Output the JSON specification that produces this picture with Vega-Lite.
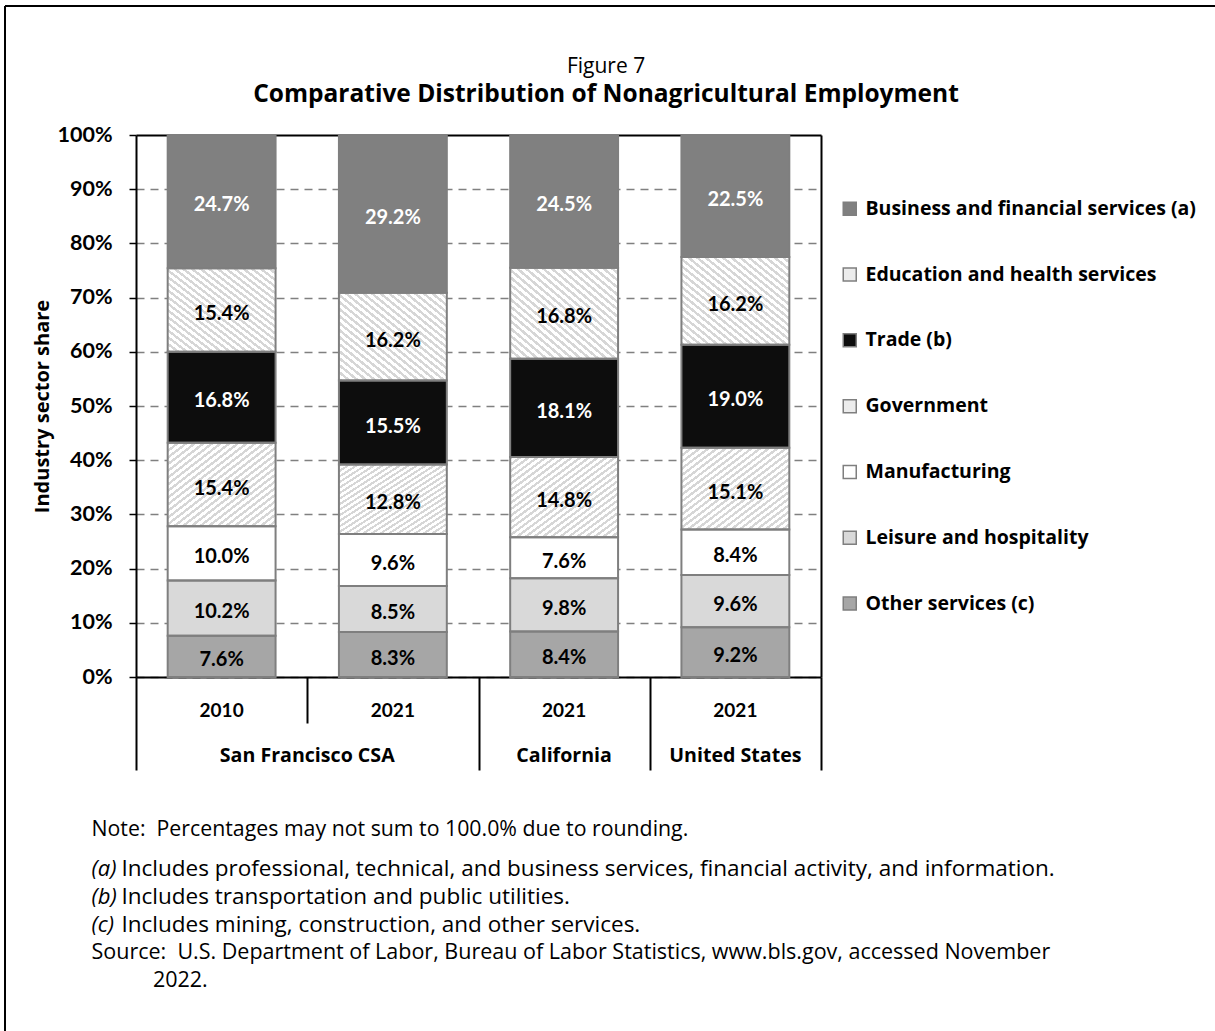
{
  "$schema": "https://vega.github.io/schema/vega-lite/v6.json",
  "width": 1210,
  "height": 1025,
  "autosize": {"type": "none"},
  "padding": {"left": 5, "top": 6, "right": 0, "bottom": 0},
  "background": "white",
  "view": {"stroke": "black", "strokeWidth": 2, "strokeDash": [1210, 2235, 1025, 0]},
  "title": {
    "text": "Figure 7",
    "subtitle": "Comparative Distribution of Nonagricultural Employment",
    "anchor": "middle",
    "frame": "group",
    "offset": -100,
    "dx": -4,
    "font": "Open Sans",
    "fontSize": 21,
    "fontWeight": "normal",
    "color": "black",
    "subtitleFont": "Open Sans",
    "subtitleFontSize": 24.5,
    "subtitleFontWeight": "bold",
    "subtitleColor": "black",
    "subtitlePadding": 6
  },
  "data": {
    "values": [
      {"key": "San Francisco CSA|2010", "sector": "Business and financial services (a)", "pos": 7, "share": 0.247},
      {"key": "San Francisco CSA|2010", "sector": "Education and health services", "pos": 6, "share": 0.154},
      {"key": "San Francisco CSA|2010", "sector": "Trade (b)", "pos": 5, "share": 0.168},
      {"key": "San Francisco CSA|2010", "sector": "Government", "pos": 4, "share": 0.154},
      {"key": "San Francisco CSA|2010", "sector": "Manufacturing", "pos": 3, "share": 0.100},
      {"key": "San Francisco CSA|2010", "sector": "Leisure and hospitality", "pos": 2, "share": 0.102},
      {"key": "San Francisco CSA|2010", "sector": "Other services (c)", "pos": 1, "share": 0.076},
      {"key": "San Francisco CSA|2021", "sector": "Business and financial services (a)", "pos": 7, "share": 0.292},
      {"key": "San Francisco CSA|2021", "sector": "Education and health services", "pos": 6, "share": 0.162},
      {"key": "San Francisco CSA|2021", "sector": "Trade (b)", "pos": 5, "share": 0.155},
      {"key": "San Francisco CSA|2021", "sector": "Government", "pos": 4, "share": 0.128},
      {"key": "San Francisco CSA|2021", "sector": "Manufacturing", "pos": 3, "share": 0.096},
      {"key": "San Francisco CSA|2021", "sector": "Leisure and hospitality", "pos": 2, "share": 0.085},
      {"key": "San Francisco CSA|2021", "sector": "Other services (c)", "pos": 1, "share": 0.083},
      {"key": "California|2021", "sector": "Business and financial services (a)", "pos": 7, "share": 0.245},
      {"key": "California|2021", "sector": "Education and health services", "pos": 6, "share": 0.168},
      {"key": "California|2021", "sector": "Trade (b)", "pos": 5, "share": 0.181},
      {"key": "California|2021", "sector": "Government", "pos": 4, "share": 0.148},
      {"key": "California|2021", "sector": "Manufacturing", "pos": 3, "share": 0.076},
      {"key": "California|2021", "sector": "Leisure and hospitality", "pos": 2, "share": 0.098},
      {"key": "California|2021", "sector": "Other services (c)", "pos": 1, "share": 0.084},
      {"key": "United States|2021", "sector": "Business and financial services (a)", "pos": 7, "share": 0.225},
      {"key": "United States|2021", "sector": "Education and health services", "pos": 6, "share": 0.162},
      {"key": "United States|2021", "sector": "Trade (b)", "pos": 5, "share": 0.190},
      {"key": "United States|2021", "sector": "Government", "pos": 4, "share": 0.151},
      {"key": "United States|2021", "sector": "Manufacturing", "pos": 3, "share": 0.084},
      {"key": "United States|2021", "sector": "Leisure and hospitality", "pos": 2, "share": 0.096},
      {"key": "United States|2021", "sector": "Other services (c)", "pos": 1, "share": 0.092}
    ]
  },
  "layer": [
    {
      "mark": {"type": "bar", "width": {"band": 0.63}},
      "encoding": {
        "x": {
          "field": "key", "type": "nominal", "sort": null,
          "scale": {"range": [131, 816], "paddingInner": 0, "paddingOuter": 0},
          "axis": {
            "orient": "bottom", "offset": -354, "labels": false,
            "domain": true, "domainColor": "black", "domainWidth": 2,
            "ticks": true, "tickColor": "black", "tickWidth": 2, "tickBand": "extent",
            "tickSize": {"condition": {"test": "datum.value === 'San Francisco CSA|2010'", "value": 46}, "value": 93},
            "grid": false,
            "title": "Note:\u00a0 Percentages may not sum to 100.0% due to rounding.",
            "titleX": 86, "titleY": 158, "titleAlign": "left", "titleAnchor": "start", "titleBaseline": "alphabetic",
            "titleFont": "Open Sans", "titleFontSize": 21.3, "titleFontWeight": "normal", "titleColor": "black"
          }
        },
        "y": {
          "field": "share", "type": "quantitative", "stack": "zero",
          "scale": {"domain": [0, 1], "range": [671, 129], "nice": false, "clamp": true},
          "axis": {
            "orient": "left", "offset": -131,
            "values": [0, 0.1, 0.2, 0.3, 0.4, 0.5, 0.6, 0.7, 0.8, 0.9, 1],
            "format": ".0%",
            "domainColor": "black", "domainWidth": 2,
            "tickColor": "black", "tickSize": 7, "tickWidth": 1.5,
            "labelFont": "Lato", "labelFontSize": 21.5, "labelFontWeight": "bold", "labelColor": "black", "labelPadding": 17,
            "grid": true,
            "gridColor": {"condition": {"test": "datum.value >= 1", "value": "black"}, "value": "#808080"},
            "gridDash": {"condition": {"test": "datum.value >= 1", "value": []}, "value": [8, 6]},
            "gridWidth": {"condition": {"test": "datum.value >= 1", "value": 2}, "value": 1.5},
            "title": "Industry sector share",
            "titleX": -94, "titleY": 400, "titleAngle": -90, "titleAlign": "center", "titleBaseline": "middle",
            "titleFont": "Open Sans", "titleFontSize": 20, "titleFontWeight": "bold", "titleColor": "black"
          }
        },
        "fill": {
          "field": "sector", "type": "nominal",
          "scale": {
            "domain": ["Business and financial services (a)", "Education and health services", "Trade (b)", "Government", "Manufacturing", "Leisure and hospitality", "Other services (c)"],
            "range": ["#808080", "#ececec", "#0d0d0d", "#ececec", "#ffffff", "#d9d9d9", "#a6a6a6"]
          },
          "condition": [
            {"test": "datum.sector === 'Education and health services'", "value":
              {"gradient": "linear", "x1": 0, "y1": 1, "x2": 1, "y2": 0, "stops": [
                {"offset": 0, "color": "#d6d6d6"}, {"offset": 0.018, "color": "#d6d6d6"}, {"offset": 0.018, "color": "#ffffff"}, {"offset": 0.04, "color": "#ffffff"},
                {"offset": 0.04, "color": "#d6d6d6"}, {"offset": 0.058, "color": "#d6d6d6"}, {"offset": 0.058, "color": "#ffffff"}, {"offset": 0.08, "color": "#ffffff"},
                {"offset": 0.08, "color": "#d6d6d6"}, {"offset": 0.098, "color": "#d6d6d6"}, {"offset": 0.098, "color": "#ffffff"}, {"offset": 0.12, "color": "#ffffff"},
                {"offset": 0.12, "color": "#d6d6d6"}, {"offset": 0.138, "color": "#d6d6d6"}, {"offset": 0.138, "color": "#ffffff"}, {"offset": 0.16, "color": "#ffffff"},
                {"offset": 0.16, "color": "#d6d6d6"}, {"offset": 0.178, "color": "#d6d6d6"}, {"offset": 0.178, "color": "#ffffff"}, {"offset": 0.2, "color": "#ffffff"},
                {"offset": 0.2, "color": "#d6d6d6"}, {"offset": 0.218, "color": "#d6d6d6"}, {"offset": 0.218, "color": "#ffffff"}, {"offset": 0.24, "color": "#ffffff"},
                {"offset": 0.24, "color": "#d6d6d6"}, {"offset": 0.258, "color": "#d6d6d6"}, {"offset": 0.258, "color": "#ffffff"}, {"offset": 0.28, "color": "#ffffff"},
                {"offset": 0.28, "color": "#d6d6d6"}, {"offset": 0.298, "color": "#d6d6d6"}, {"offset": 0.298, "color": "#ffffff"}, {"offset": 0.32, "color": "#ffffff"},
                {"offset": 0.32, "color": "#d6d6d6"}, {"offset": 0.338, "color": "#d6d6d6"}, {"offset": 0.338, "color": "#ffffff"}, {"offset": 0.36, "color": "#ffffff"},
                {"offset": 0.36, "color": "#d6d6d6"}, {"offset": 0.378, "color": "#d6d6d6"}, {"offset": 0.378, "color": "#ffffff"}, {"offset": 0.4, "color": "#ffffff"},
                {"offset": 0.4, "color": "#d6d6d6"}, {"offset": 0.418, "color": "#d6d6d6"}, {"offset": 0.418, "color": "#ffffff"}, {"offset": 0.44, "color": "#ffffff"},
                {"offset": 0.44, "color": "#d6d6d6"}, {"offset": 0.458, "color": "#d6d6d6"}, {"offset": 0.458, "color": "#ffffff"}, {"offset": 0.48, "color": "#ffffff"},
                {"offset": 0.48, "color": "#d6d6d6"}, {"offset": 0.498, "color": "#d6d6d6"}, {"offset": 0.498, "color": "#ffffff"}, {"offset": 0.52, "color": "#ffffff"},
                {"offset": 0.52, "color": "#d6d6d6"}, {"offset": 0.538, "color": "#d6d6d6"}, {"offset": 0.538, "color": "#ffffff"}, {"offset": 0.56, "color": "#ffffff"},
                {"offset": 0.56, "color": "#d6d6d6"}, {"offset": 0.578, "color": "#d6d6d6"}, {"offset": 0.578, "color": "#ffffff"}, {"offset": 0.6, "color": "#ffffff"},
                {"offset": 0.6, "color": "#d6d6d6"}, {"offset": 0.618, "color": "#d6d6d6"}, {"offset": 0.618, "color": "#ffffff"}, {"offset": 0.64, "color": "#ffffff"},
                {"offset": 0.64, "color": "#d6d6d6"}, {"offset": 0.658, "color": "#d6d6d6"}, {"offset": 0.658, "color": "#ffffff"}, {"offset": 0.68, "color": "#ffffff"},
                {"offset": 0.68, "color": "#d6d6d6"}, {"offset": 0.698, "color": "#d6d6d6"}, {"offset": 0.698, "color": "#ffffff"}, {"offset": 0.72, "color": "#ffffff"},
                {"offset": 0.72, "color": "#d6d6d6"}, {"offset": 0.738, "color": "#d6d6d6"}, {"offset": 0.738, "color": "#ffffff"}, {"offset": 0.76, "color": "#ffffff"},
                {"offset": 0.76, "color": "#d6d6d6"}, {"offset": 0.778, "color": "#d6d6d6"}, {"offset": 0.778, "color": "#ffffff"}, {"offset": 0.8, "color": "#ffffff"},
                {"offset": 0.8, "color": "#d6d6d6"}, {"offset": 0.818, "color": "#d6d6d6"}, {"offset": 0.818, "color": "#ffffff"}, {"offset": 0.84, "color": "#ffffff"},
                {"offset": 0.84, "color": "#d6d6d6"}, {"offset": 0.858, "color": "#d6d6d6"}, {"offset": 0.858, "color": "#ffffff"}, {"offset": 0.88, "color": "#ffffff"},
                {"offset": 0.88, "color": "#d6d6d6"}, {"offset": 0.898, "color": "#d6d6d6"}, {"offset": 0.898, "color": "#ffffff"}, {"offset": 0.92, "color": "#ffffff"},
                {"offset": 0.92, "color": "#d6d6d6"}, {"offset": 0.938, "color": "#d6d6d6"}, {"offset": 0.938, "color": "#ffffff"}, {"offset": 0.96, "color": "#ffffff"},
                {"offset": 0.96, "color": "#d6d6d6"}, {"offset": 0.978, "color": "#d6d6d6"}, {"offset": 0.978, "color": "#ffffff"}, {"offset": 1, "color": "#ffffff"}
              ]}
            },
            {"test": "datum.sector === 'Government'", "value":
              {"gradient": "linear", "x1": 0, "y1": 0, "x2": 1, "y2": 1, "stops": [
                {"offset": 0, "color": "#d6d6d6"}, {"offset": 0.018, "color": "#d6d6d6"}, {"offset": 0.018, "color": "#ffffff"}, {"offset": 0.04, "color": "#ffffff"},
                {"offset": 0.04, "color": "#d6d6d6"}, {"offset": 0.058, "color": "#d6d6d6"}, {"offset": 0.058, "color": "#ffffff"}, {"offset": 0.08, "color": "#ffffff"},
                {"offset": 0.08, "color": "#d6d6d6"}, {"offset": 0.098, "color": "#d6d6d6"}, {"offset": 0.098, "color": "#ffffff"}, {"offset": 0.12, "color": "#ffffff"},
                {"offset": 0.12, "color": "#d6d6d6"}, {"offset": 0.138, "color": "#d6d6d6"}, {"offset": 0.138, "color": "#ffffff"}, {"offset": 0.16, "color": "#ffffff"},
                {"offset": 0.16, "color": "#d6d6d6"}, {"offset": 0.178, "color": "#d6d6d6"}, {"offset": 0.178, "color": "#ffffff"}, {"offset": 0.2, "color": "#ffffff"},
                {"offset": 0.2, "color": "#d6d6d6"}, {"offset": 0.218, "color": "#d6d6d6"}, {"offset": 0.218, "color": "#ffffff"}, {"offset": 0.24, "color": "#ffffff"},
                {"offset": 0.24, "color": "#d6d6d6"}, {"offset": 0.258, "color": "#d6d6d6"}, {"offset": 0.258, "color": "#ffffff"}, {"offset": 0.28, "color": "#ffffff"},
                {"offset": 0.28, "color": "#d6d6d6"}, {"offset": 0.298, "color": "#d6d6d6"}, {"offset": 0.298, "color": "#ffffff"}, {"offset": 0.32, "color": "#ffffff"},
                {"offset": 0.32, "color": "#d6d6d6"}, {"offset": 0.338, "color": "#d6d6d6"}, {"offset": 0.338, "color": "#ffffff"}, {"offset": 0.36, "color": "#ffffff"},
                {"offset": 0.36, "color": "#d6d6d6"}, {"offset": 0.378, "color": "#d6d6d6"}, {"offset": 0.378, "color": "#ffffff"}, {"offset": 0.4, "color": "#ffffff"},
                {"offset": 0.4, "color": "#d6d6d6"}, {"offset": 0.418, "color": "#d6d6d6"}, {"offset": 0.418, "color": "#ffffff"}, {"offset": 0.44, "color": "#ffffff"},
                {"offset": 0.44, "color": "#d6d6d6"}, {"offset": 0.458, "color": "#d6d6d6"}, {"offset": 0.458, "color": "#ffffff"}, {"offset": 0.48, "color": "#ffffff"},
                {"offset": 0.48, "color": "#d6d6d6"}, {"offset": 0.498, "color": "#d6d6d6"}, {"offset": 0.498, "color": "#ffffff"}, {"offset": 0.52, "color": "#ffffff"},
                {"offset": 0.52, "color": "#d6d6d6"}, {"offset": 0.538, "color": "#d6d6d6"}, {"offset": 0.538, "color": "#ffffff"}, {"offset": 0.56, "color": "#ffffff"},
                {"offset": 0.56, "color": "#d6d6d6"}, {"offset": 0.578, "color": "#d6d6d6"}, {"offset": 0.578, "color": "#ffffff"}, {"offset": 0.6, "color": "#ffffff"},
                {"offset": 0.6, "color": "#d6d6d6"}, {"offset": 0.618, "color": "#d6d6d6"}, {"offset": 0.618, "color": "#ffffff"}, {"offset": 0.64, "color": "#ffffff"},
                {"offset": 0.64, "color": "#d6d6d6"}, {"offset": 0.658, "color": "#d6d6d6"}, {"offset": 0.658, "color": "#ffffff"}, {"offset": 0.68, "color": "#ffffff"},
                {"offset": 0.68, "color": "#d6d6d6"}, {"offset": 0.698, "color": "#d6d6d6"}, {"offset": 0.698, "color": "#ffffff"}, {"offset": 0.72, "color": "#ffffff"},
                {"offset": 0.72, "color": "#d6d6d6"}, {"offset": 0.738, "color": "#d6d6d6"}, {"offset": 0.738, "color": "#ffffff"}, {"offset": 0.76, "color": "#ffffff"},
                {"offset": 0.76, "color": "#d6d6d6"}, {"offset": 0.778, "color": "#d6d6d6"}, {"offset": 0.778, "color": "#ffffff"}, {"offset": 0.8, "color": "#ffffff"},
                {"offset": 0.8, "color": "#d6d6d6"}, {"offset": 0.818, "color": "#d6d6d6"}, {"offset": 0.818, "color": "#ffffff"}, {"offset": 0.84, "color": "#ffffff"},
                {"offset": 0.84, "color": "#d6d6d6"}, {"offset": 0.858, "color": "#d6d6d6"}, {"offset": 0.858, "color": "#ffffff"}, {"offset": 0.88, "color": "#ffffff"},
                {"offset": 0.88, "color": "#d6d6d6"}, {"offset": 0.898, "color": "#d6d6d6"}, {"offset": 0.898, "color": "#ffffff"}, {"offset": 0.92, "color": "#ffffff"},
                {"offset": 0.92, "color": "#d6d6d6"}, {"offset": 0.938, "color": "#d6d6d6"}, {"offset": 0.938, "color": "#ffffff"}, {"offset": 0.96, "color": "#ffffff"},
                {"offset": 0.96, "color": "#d6d6d6"}, {"offset": 0.978, "color": "#d6d6d6"}, {"offset": 0.978, "color": "#ffffff"}, {"offset": 1, "color": "#ffffff"}
              ]}
            }
          ],
          "legend": {
            "orient": "none", "legendX": 835, "legendY": 193, "direction": "vertical",
            "title": null, "padding": 0,
            "labelFont": "Open Sans", "labelFontSize": 19.5, "labelFontWeight": "bold", "labelColor": "black", "labelLimit": 400, "labelOffset": 6,
            "symbolType": "square", "symbolSize": 169, "symbolStrokeColor": "#7f7f7f", "symbolStrokeWidth": 1.5,
            "rowPadding": 44.8
          }
        },
        "order": {"field": "pos", "type": "quantitative"}
      }
    },
    {
      "mark": {"type": "bar", "width": {"band": 0.63}, "fillOpacity": 0, "stroke": "#7f7f7f", "strokeWidth": 2},
      "encoding": {
        "x": {
          "field": "key", "type": "nominal", "sort": null,
          "scale": {"range": [131, 816], "paddingInner": 0, "paddingOuter": 0},
          "axis": {
            "orient": "bottom", "offset": -354, "domain": false, "ticks": false, "grid": false,
            "labelExpr": "datum.value === 'San Francisco CSA|2021' ? '' : split(datum.value, '|')[0]",
            "labelOffset": {"condition": {"test": "datum.value === 'San Francisco CSA|2010'", "value": 85.6}, "value": 0},
            "labelPadding": 78, "labelBaseline": "middle", "labelAngle": 0, "labelOverlap": false, "labelLimit": 300,
            "labelFont": "Open Sans", "labelFontSize": 19.6, "labelFontWeight": "bold", "labelColor": "black",
            "title": ["(a)", "(b)", "(c)"],
            "titleX": 86, "titleY": 198, "titleAlign": "left", "titleAnchor": "start", "titleBaseline": "alphabetic", "titleLineHeight": 28,
            "titleFont": "Open Sans", "titleFontSize": 22, "titleFontWeight": "normal", "titleFontStyle": "italic", "titleColor": "black"
          }
        },
        "y": {
          "field": "share", "type": "quantitative", "stack": "zero",
          "scale": {"domain": [0, 1], "range": [671, 129], "nice": false, "clamp": true},
          "axis": null
        },
        "detail": {"field": "sector"},
        "order": {"field": "pos", "type": "quantitative"}
      }
    },
    {
      "mark": {"type": "text", "font": "Lato", "fontSize": 20, "fontWeight": "bold", "baseline": "middle", "align": "center", "dy": 4},
      "encoding": {
        "x": {
          "field": "key", "type": "nominal", "sort": null,
          "scale": {"range": [131, 816], "paddingInner": 0, "paddingOuter": 0},
          "axis": {
            "orient": "bottom", "offset": -354, "domain": false, "ticks": false, "grid": false,
            "labelExpr": "split(datum.value, '|')[1]",
            "labelPadding": 33, "labelBaseline": "middle", "labelAngle": 0, "labelOverlap": false,
            "labelFont": "Lato", "labelFontSize": 19, "labelFontWeight": "bold", "labelColor": "black",
            "title": [
              "Includes professional, technical, and business services, financial activity, and information.",
              "Includes transportation and public utilities.",
              "Includes mining, construction, and other services."
            ],
            "titleX": 116, "titleY": 198, "titleAlign": "left", "titleAnchor": "start", "titleBaseline": "alphabetic", "titleLineHeight": 28,
            "titleFont": "Open Sans", "titleFontSize": 22.5, "titleFontWeight": "normal", "titleColor": "black"
          }
        },
        "y": {
          "field": "share", "type": "quantitative", "stack": "zero", "bandPosition": 0.5,
          "scale": {"domain": [0, 1], "range": [671, 129], "nice": false, "clamp": true},
          "axis": {
            "orient": "right", "offset": -394, "domain": true, "domainColor": "black", "domainWidth": 2,
            "labels": false, "ticks": false, "grid": false,
            "title": [
              "Source:\u00a0 U.S. Department of Labor, Bureau of Labor Statistics, www.bls.gov, accessed November",
              "\u200b\u00a0\u00a0\u00a0\u00a0\u00a0\u00a0\u00a0\u00a0\u00a0\u00a0\u00a02022."
            ],
            "titleAngle": 0, "titleX": -730, "titleY": 952, "titleAlign": "left", "titleAnchor": "start", "titleBaseline": "alphabetic", "titleLineHeight": 28,
            "titleFont": "Open Sans", "titleFontSize": 21.5, "titleFontWeight": "normal", "titleColor": "black"
          }
        },
        "detail": {"field": "sector"},
        "order": {"field": "pos", "type": "quantitative"},
        "text": {"field": "share", "type": "quantitative", "format": ".1%"},
        "color": {
          "condition": {"test": "datum.sector === 'Trade (b)' || datum.sector === 'Business and financial services (a)'", "value": "white"},
          "value": "black"
        }
      }
    }
  ],
  "resolve": {"axis": {"x": "independent", "y": "independent"}}
}
